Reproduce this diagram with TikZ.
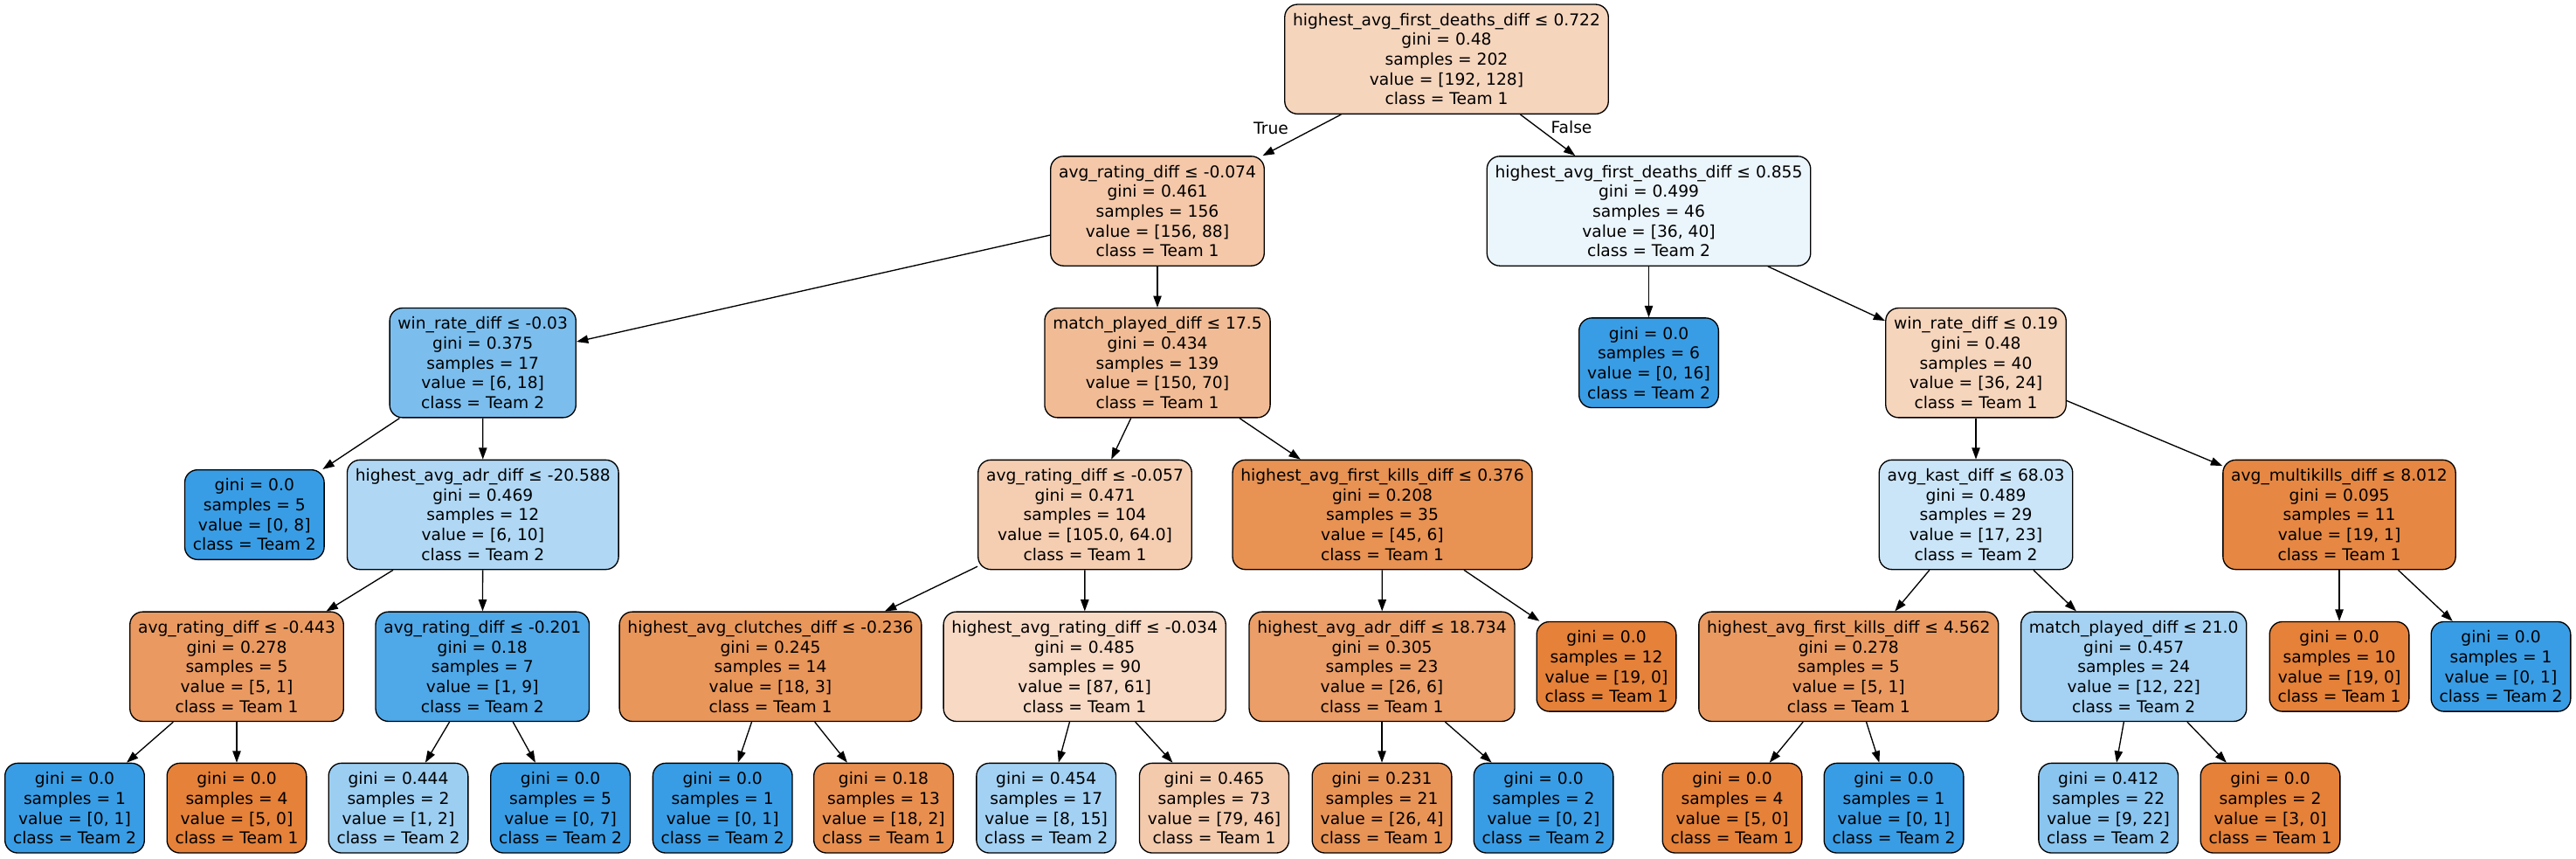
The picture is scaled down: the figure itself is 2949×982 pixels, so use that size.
\documentclass[tikz,border=0pt]{standalone}
\usepackage{fontspec}
\setmainfont{DejaVu Sans}
\usetikzlibrary{arrows.meta}
\definecolor{fRoot}{RGB}{246,213,189}
\definecolor{fNa}{RGB}{244,200,169}
\definecolor{fNb}{RGB}{235,245,252}
\definecolor{fNc}{RGB}{123,190,238}
\definecolor{fNd}{RGB}{241,188,149}
\definecolor{fBlue}{RGB}{57,157,229}
\definecolor{fOrange}{RGB}{229,129,57}
\definecolor{fNh}{RGB}{176,216,245}
\definecolor{fNi}{RGB}{245,206,178}
\definecolor{fNj}{RGB}{232,146,83}
\definecolor{fNk}{RGB}{203,229,248}
\definecolor{fNl}{RGB}{230,136,67}
\definecolor{fNm}{RGB}{234,154,97}
\definecolor{fNn}{RGB}{79,168,232}
\definecolor{fNo}{RGB}{233,150,90}
\definecolor{fNp}{RGB}{247,217,196}
\definecolor{fNq}{RGB}{235,158,103}
\definecolor{fNt}{RGB}{165,210,243}
\definecolor{fLc}{RGB}{156,206,242}
\definecolor{fLf}{RGB}{232,143,79}
\definecolor{fLg}{RGB}{163,209,243}
\definecolor{fLh}{RGB}{244,202,172}
\definecolor{fLi}{RGB}{233,148,87}
\definecolor{fLm}{RGB}{138,197,240}
\tikzset{
  tn/.style={draw=black, line width=1pt, rounded corners=11pt, align=center,
    font=\fontsize{14}{17}\selectfont, inner xsep=7pt, inner ysep=3pt,
    minimum height=94pt},
  lf/.style={tn, minimum height=77pt},
  edge/.style={draw=black, line width=1pt, -{Triangle[length=10pt,width=7pt]}},
  elab/.style={font=\fontsize{14}{17}\selectfont, inner sep=0pt}
}
\begin{document}
\begin{tikzpicture}[x=0.75pt, y=-0.75pt]
\fill[white] (0,0) rectangle (2949,982);
\useasboundingbox (0,0) rectangle (2949,982);
% level 0
\node[tn, fill=fRoot] (n0) at (1656,67.7) {highest\_avg\_first\_deaths\_diff ≤ 0.722\\gini = 0.48\\samples = 202\\value = [192, 128]\\class = Team 1};
% level 1
\node[tn, fill=fNa] (n1) at (1325,241.5) {avg\_rating\_diff ≤ -0.074\\gini = 0.461\\samples = 156\\value = [156, 88]\\class = Team 1};
\node[tn, fill=fNb] (n2) at (1887.5,241.5) {highest\_avg\_first\_deaths\_diff ≤ 0.855\\gini = 0.499\\samples = 46\\value = [36, 40]\\class = Team 2};
% level 2
\node[tn, fill=fNc] (n3) at (552.7,415.2) {win\_rate\_diff ≤ -0.03\\gini = 0.375\\samples = 17\\value = [6, 18]\\class = Team 2};
\node[tn, fill=fNd] (n4) at (1325,415.2) {match\_played\_diff ≤ 17.5\\gini = 0.434\\samples = 139\\value = [150, 70]\\class = Team 1};
\node[lf, fill=fBlue] (n5) at (1887.5,415.2) {gini = 0.0\\samples = 6\\value = [0, 16]\\class = Team 2};
\node[tn, fill=fRoot] (n6) at (2262,415.2) {win\_rate\_diff ≤ 0.19\\gini = 0.48\\samples = 40\\value = [36, 24]\\class = Team 1};
% level 3
\node[lf, fill=fBlue] (n7) at (291.3,589) {gini = 0.0\\samples = 5\\value = [0, 8]\\class = Team 2};
\node[tn, fill=fNh] (n8) at (552.8,589) {highest\_avg\_adr\_diff ≤ -20.588\\gini = 0.469\\samples = 12\\value = [6, 10]\\class = Team 2};
\node[tn, fill=fNi] (n9) at (1242,589) {avg\_rating\_diff ≤ -0.057\\gini = 0.471\\samples = 104\\value = [105.0, 64.0]\\class = Team 1};
\node[tn, fill=fNj] (n10) at (1582.5,589) {highest\_avg\_first\_kills\_diff ≤ 0.376\\gini = 0.208\\samples = 35\\value = [45, 6]\\class = Team 1};
\node[tn, fill=fNk] (n11) at (2262,589) {avg\_kast\_diff ≤ 68.03\\gini = 0.489\\samples = 29\\value = [17, 23]\\class = Team 2};
\node[tn, fill=fNl] (n12) at (2678,589) {avg\_multikills\_diff ≤ 8.012\\gini = 0.095\\samples = 11\\value = [19, 1]\\class = Team 1};
% level 4
\node[tn, fill=fNm] (n13) at (271,762.8) {avg\_rating\_diff ≤ -0.443\\gini = 0.278\\samples = 5\\value = [5, 1]\\class = Team 1};
\node[tn, fill=fNn] (n14) at (552.3,762.8) {avg\_rating\_diff ≤ -0.201\\gini = 0.18\\samples = 7\\value = [1, 9]\\class = Team 2};
\node[tn, fill=fNo] (n15) at (882,762.8) {highest\_avg\_clutches\_diff ≤ -0.236\\gini = 0.245\\samples = 14\\value = [18, 3]\\class = Team 1};
\node[tn, fill=fNp] (n16) at (1241.7,762.8) {highest\_avg\_rating\_diff ≤ -0.034\\gini = 0.485\\samples = 90\\value = [87, 61]\\class = Team 1};
\node[tn, fill=fNq] (n17) at (1582,762.8) {highest\_avg\_adr\_diff ≤ 18.734\\gini = 0.305\\samples = 23\\value = [26, 6]\\class = Team 1};
\node[lf, fill=fOrange] (n18) at (1839,762.8) {gini = 0.0\\samples = 12\\value = [19, 0]\\class = Team 1};
\node[tn, fill=fNm] (n19) at (2116.3,762.8) {highest\_avg\_first\_kills\_diff ≤ 4.562\\gini = 0.278\\samples = 5\\value = [5, 1]\\class = Team 1};
\node[tn, fill=fNt] (n20) at (2442.7,762.8) {match\_played\_diff ≤ 21.0\\gini = 0.457\\samples = 24\\value = [12, 22]\\class = Team 2};
\node[lf, fill=fOrange] (n21) at (2678,762.8) {gini = 0.0\\samples = 10\\value = [19, 0]\\class = Team 1};
\node[lf, fill=fBlue] (n22) at (2863,762.8) {gini = 0.0\\samples = 1\\value = [0, 1]\\class = Team 2};
% level 5
\node[lf, fill=fBlue] (l0) at (85.5,924.7) {gini = 0.0\\samples = 1\\value = [0, 1]\\class = Team 2};
\node[lf, fill=fOrange] (l1) at (271,924.7) {gini = 0.0\\samples = 4\\value = [5, 0]\\class = Team 1};
\node[lf, fill=fLc] (l2) at (456,924.7) {gini = 0.444\\samples = 2\\value = [1, 2]\\class = Team 2};
\node[lf, fill=fBlue] (l3) at (641.6,924.7) {gini = 0.0\\samples = 5\\value = [0, 7]\\class = Team 2};
\node[lf, fill=fBlue] (l4) at (827.2,924.7) {gini = 0.0\\samples = 1\\value = [0, 1]\\class = Team 2};
\node[lf, fill=fLf] (l5) at (1011.5,924.7) {gini = 0.18\\samples = 13\\value = [18, 2]\\class = Team 1};
\node[lf, fill=fLg] (l6) at (1197.7,924.7) {gini = 0.454\\samples = 17\\value = [8, 15]\\class = Team 2};
\node[lf, fill=fLh] (l7) at (1390,924.7) {gini = 0.465\\samples = 73\\value = [79, 46]\\class = Team 1};
\node[lf, fill=fLi] (l8) at (1582,924.7) {gini = 0.231\\samples = 21\\value = [26, 4]\\class = Team 1};
\node[lf, fill=fBlue] (l9) at (1767,924.7) {gini = 0.0\\samples = 2\\value = [0, 2]\\class = Team 2};
\node[lf, fill=fOrange] (l10) at (1983,924.7) {gini = 0.0\\samples = 4\\value = [5, 0]\\class = Team 1};
\node[lf, fill=fBlue] (l11) at (2168,924.7) {gini = 0.0\\samples = 1\\value = [0, 1]\\class = Team 2};
\node[lf, fill=fLm] (l12) at (2413.7,924.7) {gini = 0.412\\samples = 22\\value = [9, 22]\\class = Team 2};
\node[lf, fill=fOrange] (l13) at (2599,924.7) {gini = 0.0\\samples = 2\\value = [3, 0]\\class = Team 1};
% edges
\draw[edge] (n0) -- (n1);
\draw[edge] (n0) -- (n2);
\draw[edge] (n1) -- (n3);
\draw[edge] (n1) -- (n4);
\draw[edge] (n2) -- (n5);
\draw[edge] (n2) -- (n6);
\draw[edge] (n3) -- (n7);
\draw[edge] (n3) -- (n8);
\draw[edge] (n4) -- (n9);
\draw[edge] (n4) -- (n10);
\draw[edge] (n6) -- (n11);
\draw[edge] (n6) -- (n12);
\draw[edge] (n8) -- (n13);
\draw[edge] (n8) -- (n14);
\draw[edge] (n9) -- (n15);
\draw[edge] (n9) -- (n16);
\draw[edge] (n10) -- (n17);
\draw[edge] (n10) -- (n18);
\draw[edge] (n11) -- (n19);
\draw[edge] (n11) -- (n20);
\draw[edge] (n12) -- (n21);
\draw[edge] (n12) -- (n22);
\draw[edge] (n13) -- (l0);
\draw[edge] (n13) -- (l1);
\draw[edge] (n14) -- (l2);
\draw[edge] (n14) -- (l3);
\draw[edge] (n15) -- (l4);
\draw[edge] (n15) -- (l5);
\draw[edge] (n16) -- (l6);
\draw[edge] (n16) -- (l7);
\draw[edge] (n17) -- (l8);
\draw[edge] (n17) -- (l9);
\draw[edge] (n19) -- (l10);
\draw[edge] (n19) -- (l11);
\draw[edge] (n20) -- (l12);
\draw[edge] (n20) -- (l13);
% edge labels
\node[elab] (tTrue) at (1455,147) {True};
\node[elab] (tFalse) at (1799,146) {False};
\end{tikzpicture}
\end{document}
